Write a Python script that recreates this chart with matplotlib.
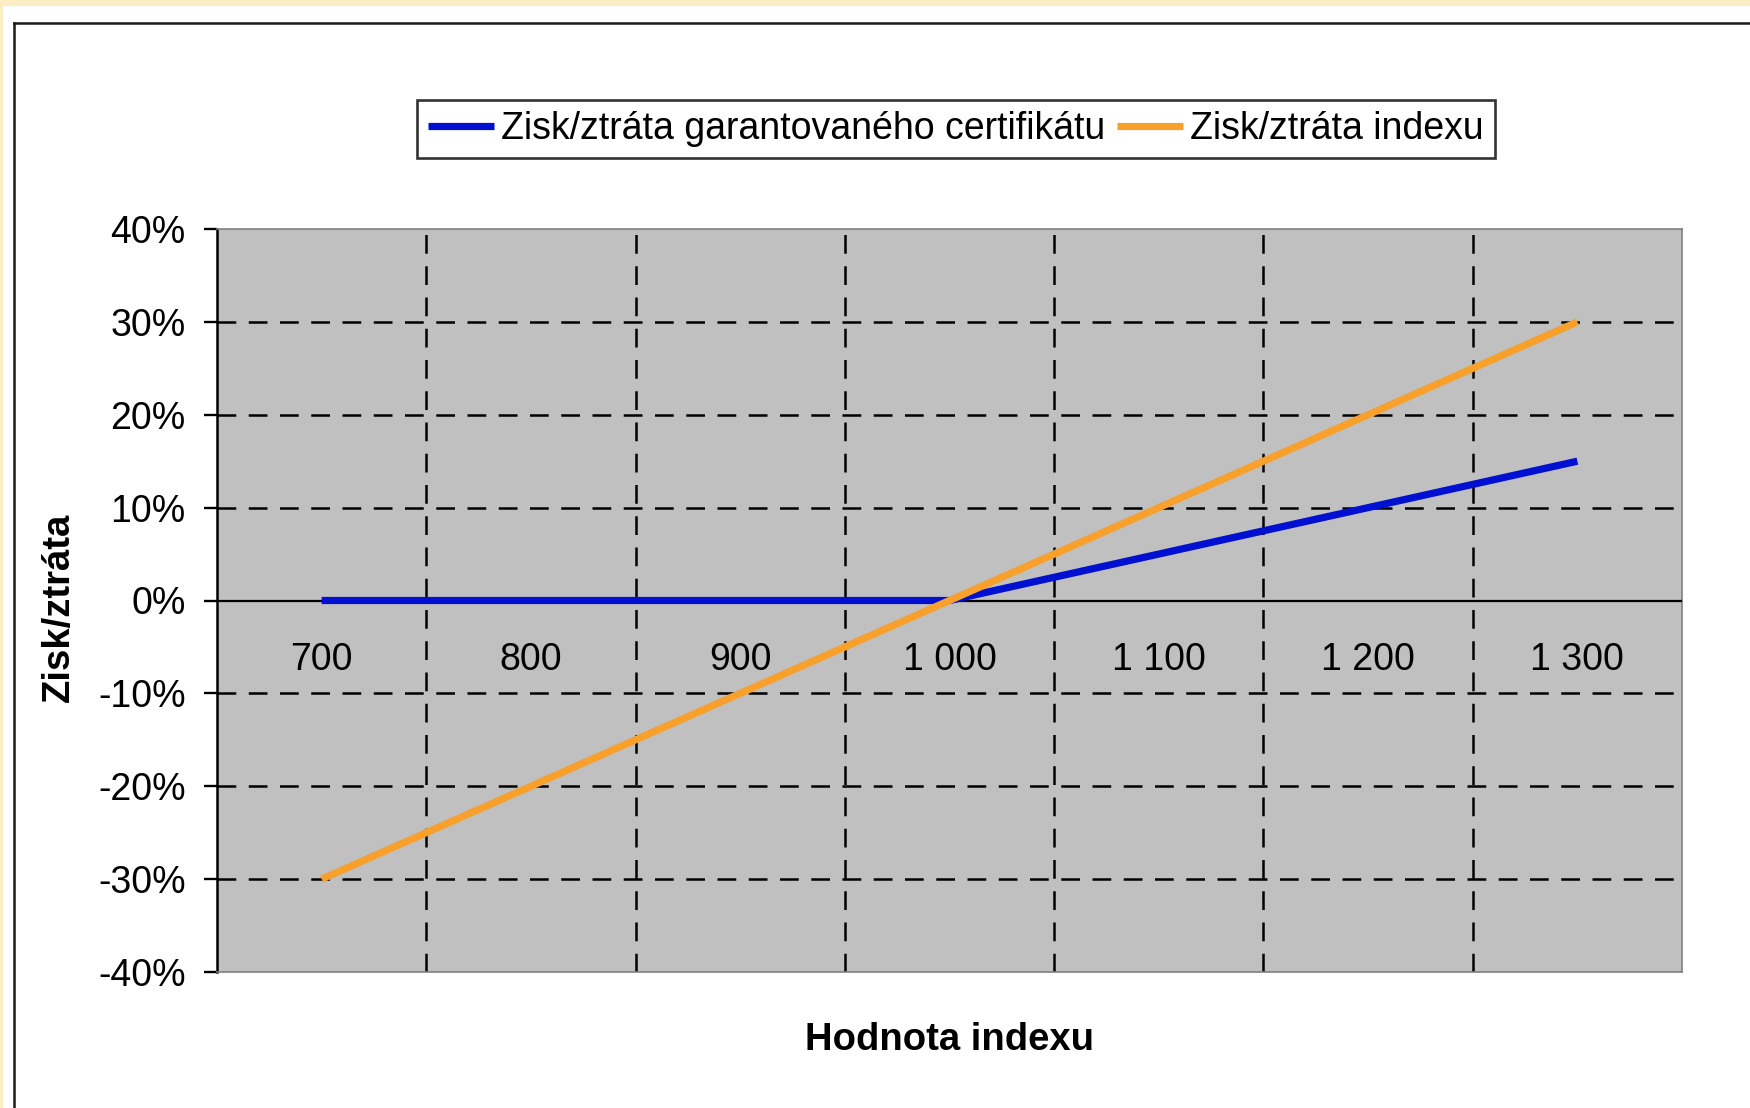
import matplotlib
matplotlib.use("Agg")
import matplotlib.pyplot as plt
from matplotlib.patches import Rectangle
from matplotlib.lines import Line2D
from matplotlib.ticker import FixedLocator, FuncFormatter

plt.rcParams['font.family'] = ['Liberation Sans', 'DejaVu Sans']

# Data
index_values = ['700', '800', '900', '1 000', '1 100', '1 200', '1 300']
certificate_pl = [0.0, 0.0, 0.0, 0.0, 0.05, 0.10, 0.15]
index_pl = [-0.30, -0.20, -0.10, 0.0, 0.10, 0.20, 0.30]
y_ticks = [-0.4, -0.3, -0.2, -0.1, 0.0, 0.1, 0.2, 0.3, 0.4]

W, H = 1750, 1108
fig = plt.figure(figsize=(W / 100, H / 100), dpi=100)
fig.patch.set_facecolor('white')

# beige frame strips + black chart border
fig.patches.append(Rectangle((0, 1 - 6 / H), 1, 6 / H, transform=fig.transFigure,
                             facecolor='#FCEDC4', edgecolor='none', zorder=0))
fig.patches.append(Rectangle((0, 0), 3 / W, 1, transform=fig.transFigure,
                             facecolor='#FCEDC4', edgecolor='none', zorder=0))
fig.lines.append(Line2D([14 / W, 1], [1 - 23 / H, 1 - 23 / H], transform=fig.transFigure,
                        color='#1a1a1a', lw=1.8))
fig.lines.append(Line2D([14 / W, 14 / W], [0, 1 - 23 / H], transform=fig.transFigure,
                        color='#1a1a1a', lw=1.8))

ax = fig.add_axes([217 / W, 1 - 972 / H, (1682 - 217) / W, (972 - 229) / H])
ax.set_facecolor('#C0C0C0')

x = list(range(len(index_values)))
ax.plot(x, certificate_pl, color='#0010D0', lw=5.2, solid_capstyle='butt',
        label='Zisk/ztráta garantovaného certifikátu', zorder=4)
ax.plot(x, index_pl, color='#F8A02C', lw=5.2, solid_capstyle='butt',
        label='Zisk/ztráta indexu', zorder=5)

ax.set_xlim(-0.5, len(index_values) - 0.5)
ax.set_ylim(-0.4, 0.4)

# grid
for b in [i + 0.5 for i in range(len(index_values) - 1)]:
    ax.axvline(b, color='black', lw=1.8, dashes=(7.5, 5), zorder=2)
for t in y_ticks[1:-1]:
    if t != 0:
        ax.axhline(t, color='black', lw=1.8, dashes=(7.5, 5), zorder=2)
ax.axhline(0, color='black', lw=1.6, zorder=3)

# spines
for s in ['top', 'right', 'bottom']:
    ax.spines[s].set_color('#808080')
    ax.spines[s].set_linewidth(1.2)
ax.spines['left'].set_color('black')
ax.spines['left'].set_linewidth(1.8)

ax.yaxis.set_major_locator(FixedLocator(y_ticks))
ax.yaxis.set_major_formatter(FuncFormatter(lambda v, p: f"{v * 100:.0f}%"))
ax.tick_params(axis='y', direction='out', length=9.5, width=1.7, pad=13,
               labelsize=27, colors='black')

ax.set_xticks([])
for i, lab in enumerate(index_values):
    ax.text(i, -0.064, lab, ha='center', va='center', fontsize=27, zorder=6)

fig.text(950 / W, 1 - 1040 / H, 'Hodnota indexu', ha='center', va='center',
         fontsize=27.5, fontweight='bold')
fig.text(59 / W, 1 - 607 / H, 'Zisk/ztráta', ha='center', va='center',
         fontsize=27.5, fontweight='bold', rotation=90)

leg = fig.legend(loc='center', bbox_to_anchor=(956 / W, 1 - 129 / H), ncol=2,
                 fontsize=27, frameon=True, fancybox=False, handlelength=1.75,
                 handletextpad=0.2, columnspacing=0.3, borderpad=0.3)
leg.get_frame().set_edgecolor('black')
leg.get_frame().set_linewidth(1.9)

fig.savefig('out.png', dpi=100)
